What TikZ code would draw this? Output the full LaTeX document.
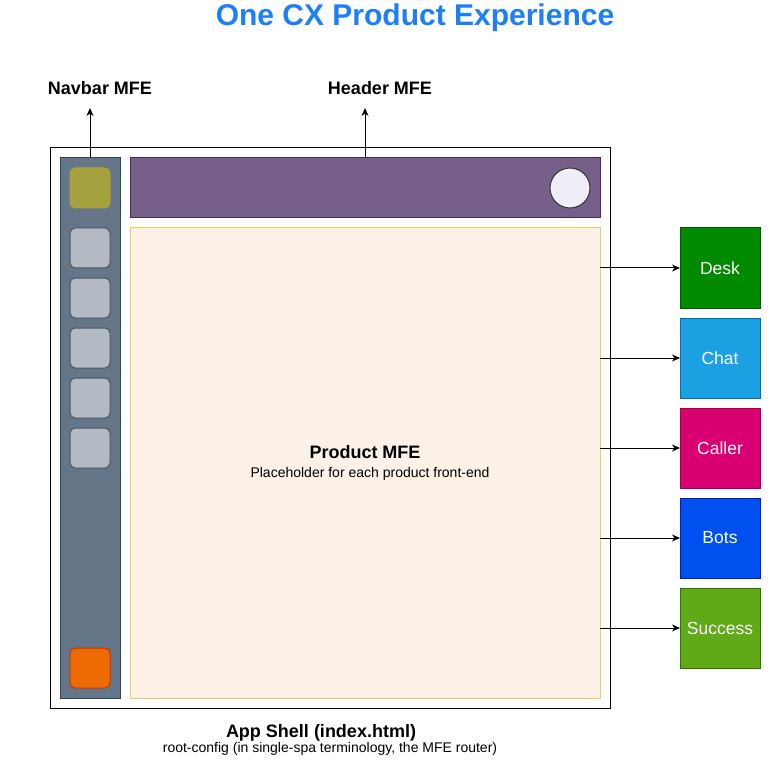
\documentclass[tikz,border=0pt]{standalone}
\usepackage{fontspec}
\setmainfont{Liberation Sans}
\usepackage{tikz}
\usetikzlibrary{arrows.meta}

\definecolor{titleblue}{HTML}{1C7FF7}
\definecolor{navfill}{HTML}{647687}
\definecolor{navline}{HTML}{314354}
\definecolor{btnfill}{HTML}{B4BAC3}
\definecolor{btnline}{HTML}{4A5560}
\definecolor{olivefill}{HTML}{A4A13F}
\definecolor{oliveline}{HTML}{B39E38}
\definecolor{orangefill}{HTML}{EE6A05}
\definecolor{orangeline}{HTML}{C73500}
\definecolor{headfill}{HTML}{76608A}
\definecolor{headline}{HTML}{432D57}
\definecolor{avatarfill}{HTML}{EFEDF5}
\definecolor{prodfill}{HTML}{FCF1E6}
\definecolor{prodline}{HTML}{EBC86A}
\definecolor{deskfill}{HTML}{008A00}
\definecolor{deskline}{HTML}{005700}
\definecolor{chatfill}{HTML}{1BA1E2}
\definecolor{chatline}{HTML}{006EAF}
\definecolor{callerfill}{HTML}{D80073}
\definecolor{callerline}{HTML}{A50040}
\definecolor{botsfill}{HTML}{0050EF}
\definecolor{botsline}{HTML}{001DBC}
\definecolor{successfill}{HTML}{60A917}
\definecolor{successline}{HTML}{2D7600}

\begin{document}
\begin{tikzpicture}[-,>={Stealth[length=8pt,width=7pt,inset=2.5pt]},x=1pt,y=-1pt,line width=1pt,node distance=90pt]
  \tikzstyle{box}=[draw,inner sep=0pt,outer sep=0pt]
  \tikzstyle{navbtn}=[box,rounded corners=5pt,minimum width=40pt,minimum height=40pt,fill=btnfill,draw=btnline]
  \tikzstyle{product}=[box,minimum width=80pt,minimum height=80pt,text=white,font=\fontsize{17.5}{20}\selectfont]
  \tikzstyle{caption}=[inner sep=0pt,anchor=base,font=\bfseries\fontsize{18}{21}\selectfont]
  \tikzstyle{note}=[inner sep=0pt,anchor=base,font=\fontsize{14}{16}\selectfont]

  \useasboundingbox (0,0) rectangle (772,765);

  \node[caption,text=titleblue,font=\bfseries\fontsize{30}{34}\selectfont] (title) at (415,26) {One CX Product Experience};
  \node[caption] (navlbl) at (100,95) {Navbar MFE};
  \node[caption] (headlbl) at (380,95) {Header MFE};

  \node[box,minimum width=560pt,minimum height=560pt] (shell) at (330,428) {};
  \node[box,fill=navfill,draw=navline,minimum width=60pt,minimum height=540pt] (navbar) at (90,428) {};
  \node[box,rounded corners=5pt,minimum width=40pt,minimum height=40pt,fill=olivefill,draw=oliveline] (logo) at (90,188) {};
  \node[navbtn] (btnA) at (90,248) {};
  \node[navbtn] (btnB) at (90,298) {};
  \node[navbtn] (btnC) at (90,348) {};
  \node[navbtn] (btnD) at (90,398) {};
  \node[navbtn] (btnE) at (90,448) {};
  \node[box,rounded corners=5pt,minimum width=40pt,minimum height=40pt,fill=orangefill,draw=orangeline] (user) at (90,668) {};

  \node[box,fill=headfill,draw=headline,minimum width=470pt,minimum height=60pt] (header) at (365,188) {};
  \node[box,circle,fill=avatarfill,draw=black!80,minimum size=40pt] (avatar) at (570,188) {};

  \node[box,fill=prodfill,draw=prodline,minimum width=470pt,minimum height=470pt] (prod) at (365,463) {};
  \node[caption] (prodlbl) at (365,458) {Product MFE};
  \node[note] (prodsub) at (370,477) {Placeholder for each product front-end};

  \node[caption] (shelllbl) at (321,737) {App Shell (index.html)};
  \node[note] (shellsub) at (330,752) {root-config (in single-spa terminology, the MFE router)};

  \node[product,fill=deskfill,draw=deskline] (desk) at (720,268) {Desk};
  \node[product,fill=chatfill,draw=chatline] (chat) [below of=desk] {Chat};
  \node[product,fill=callerfill,draw=callerline] (caller) [below of=chat] {Caller};
  \node[product,fill=botsfill,draw=botsline] (bots) [below of=caller] {Bots};
  \node[product,fill=successfill,draw=successline] (success) [below of=bots] {Success};

  \coordinate (navtip) at (90,108);
  \coordinate (headtip) at (365,108);

  \path[->] (navbar.north) edge (navtip);
  \path[->] (header.north) edge (headtip);
  \path[->] (prod.east |- desk.west) edge (desk.west);
  \path[->] (prod.east |- chat.west) edge (chat.west);
  \path[->] (prod.east |- caller.west) edge (caller.west);
  \path[->] (prod.east |- bots.west) edge (bots.west);
  \path[->] (prod.east |- success.west) edge (success.west);

\end{tikzpicture}
\end{document}
